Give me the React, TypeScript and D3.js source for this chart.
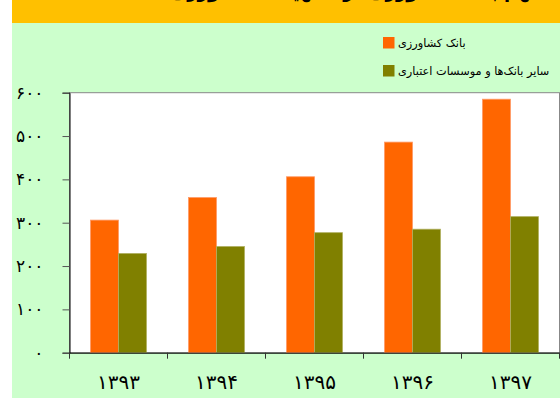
import React, { useEffect, useRef } from 'react';
import * as d3 from 'd3';

const years = ['۱۳۹۳', '۱۳۹۴', '۱۳۹۵', '۱۳۹۶', '۱۳۹۷'];
const keshavarziValues = [306, 358, 406, 486, 585];
const otherBanksValues = [229, 245, 277, 285, 314];
const seriesNames = ['بانک کشاورزی', 'سایر بانک‌ها و موسسات اعتباری'];
const yTicks = [0, 100, 200, 300, 400, 500, 600];
const titleText = 'سهم بانک کشاورزی در تسهیلات کشاورزی';

const toPersian = (n: number) => String(n).replace(/\d/g, d => '۰۱۲۳۴۵۶۷۸۹'[+d]);

const App: React.FC = () => {
    const svgRef = useRef<SVGSVGElement>(null);

    const width = 560;
    const height = 402;

    useEffect(() => {
        if (!svgRef.current) return;
        const svg = d3.select(svgRef.current);
        svg.selectAll('*').remove();

        const font = '"DejaVu Sans", sans-serif';
        const colors = ['#FF6600', '#808000'];

        // backgrounds
        svg.append('rect').attr('x', 12).attr('y', 0).attr('width', 548).attr('height', 23).attr('fill', '#FFC000');
        svg.append('rect').attr('x', 12).attr('y', 23).attr('width', 548).attr('height', 375).attr('fill', '#CCFFCC');

        // title, mostly above the top edge as in the source
        svg.append('text')
            .attr('x', 548).attr('y', -2)
            .attr('text-anchor', 'end')
            .attr('font-family', font)
            .attr('font-weight', 'bold')
            .attr('font-size', 18)
            .attr('fill', '#000')
            .text(titleText);

        const margin = { top: 92.7, left: 69.5, right: 559.5, bottom: 352.7 };

        const xScale = d3.scaleBand<string>()
            .domain(years)
            .range([margin.left, margin.right]);

        const yScale = d3.scaleLinear()
            .domain([0, 600])
            .range([margin.bottom, margin.top]);

        svg.append('rect')
            .attr('x', margin.left).attr('y', margin.top)
            .attr('width', margin.right - margin.left)
            .attr('height', margin.bottom - margin.top)
            .attr('fill', '#fff')
            .attr('stroke', '#888')
            .attr('stroke-width', 1);

        const barW = 28;
        const data = years.map((y, i) => ({ year: y, vals: [keshavarziValues[i], otherBanksValues[i]] }));

        data.forEach(d => {
            const cx = (xScale(d.year) ?? 0) + xScale.bandwidth() / 2;
            d.vals.forEach((v, k) => {
                svg.append('rect')
                    .attr('x', cx - barW + k * barW)
                    .attr('y', yScale(v))
                    .attr('width', barW)
                    .attr('height', yScale(0) - yScale(v))
                    .attr('fill', colors[k])
                    .attr('stroke', k === 0 ? '#FF9966' : '#B0B060')
                    .attr('stroke-width', 0.8);
            });
        });

        // y axis
        const yAxis = svg.append('g')
            .attr('transform', `translate(${margin.left},0)`)
            .call(d3.axisLeft(yScale).tickValues(yTicks).tickSize(7).tickFormat(d => toPersian(d as number)).tickPadding(0));
        yAxis.select('.domain').attr('stroke', '#000');
        yAxis.selectAll('.tick line').attr('stroke', '#555');
        yAxis.selectAll('.tick text')
            .attr('x', -26)
            .attr('font-family', font)
            .attr('font-size', 17)
            .attr('fill', '#000');

        // x axis
        const xAxis = svg.append('g')
            .attr('transform', `translate(0,${margin.bottom})`)
            .call(d3.axisBottom(xScale).tickSize(0).tickFormat(() => ''));
        xAxis.select('.domain').attr('stroke', '#000');
        xAxis.selectAll('.tick').remove();

        const edges = [...years.map(y => xScale(y) ?? 0), margin.right];
        edges.forEach(x => {
            svg.append('line')
                .attr('x1', x).attr('x2', x)
                .attr('y1', margin.bottom).attr('y2', margin.bottom + 6)
                .attr('stroke', '#333');
        });

        years.forEach(y => {
            svg.append('text')
                .attr('x', (xScale(y) ?? 0) + xScale.bandwidth() / 2)
                .attr('y', 389)
                .attr('text-anchor', 'middle')
                .attr('font-family', font)
                .attr('font-size', 20)
                .attr('fill', '#000')
                .text(y);
        });

        // legend
        seriesNames.forEach((name, i) => {
            const ly = 37 + i * 28;
            svg.append('rect')
                .attr('x', 383).attr('y', ly)
                .attr('width', 11.5).attr('height', 11.5)
                .attr('fill', colors[i]);
            svg.append('text')
                .attr('x', 398).attr('y', ly + 10)
                .attr('font-family', font)
                .attr('font-size', 11.3)
                .attr('fill', '#000')
                .text(name);
        });
    }, []);

    return (
        <svg ref={svgRef} width={width} height={height} style={{ position: 'absolute', left: 0, top: 0 }}></svg>
    );
};

export default App;
